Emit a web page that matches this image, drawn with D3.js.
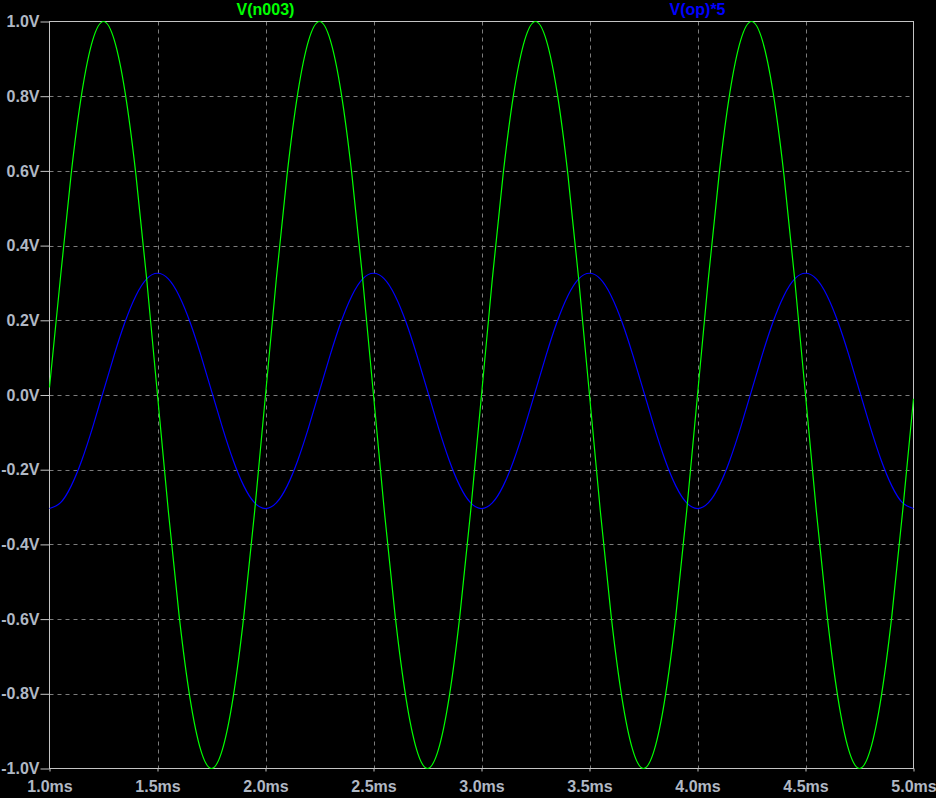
<!DOCTYPE html>
<html>
<head>
<meta charset="utf-8">
<script src="https://cdn.jsdelivr.net/npm/d3@7"></script>
<style>
html, body { margin: 0; padding: 0; background: #000; }
svg { display: block; }
</style>
</head>
<body>
<svg id="chart" width="936" height="798"></svg>
<script>
// ---- data ----
const timesMs = [
  1.00,1.05,1.10,1.15,1.20,1.25,1.30,1.35,1.40,1.45,
  1.50,1.55,1.60,1.65,1.70,1.75,1.80,1.85,1.90,1.95,
  2.00,2.05,2.10,2.15,2.20,2.25,2.30,2.35,2.40,2.45,
  2.50,2.55,2.60,2.65,2.70,2.75,2.80,2.85,2.90,2.95,
  3.00,3.05,3.10,3.15,3.20,3.25,3.30,3.35,3.40,3.45,
  3.50,3.55,3.60,3.65,3.70,3.75,3.80,3.85,3.90,3.95,
  4.00,4.05,4.10,4.15,4.20,4.25,4.30,4.35,4.40,4.45,
  4.50,4.55,4.60,4.65,4.70,4.75,4.80,4.85,4.90,4.95,
  5.00
];
const vN003 = [
  0.02,0.31,0.59,0.81,0.95,1.00,0.95,0.81,0.59,0.31,
  0.00,-0.31,-0.59,-0.81,-0.95,-1.00,-0.95,-0.81,-0.59,-0.31,
  0.00,0.31,0.59,0.81,0.95,1.00,0.95,0.81,0.59,0.31,
  0.00,-0.31,-0.59,-0.81,-0.95,-1.00,-0.95,-0.81,-0.59,-0.31,
  0.00,0.31,0.59,0.81,0.95,1.00,0.95,0.81,0.59,0.31,
  0.00,-0.31,-0.59,-0.81,-0.95,-1.00,-0.95,-0.81,-0.59,-0.31,
  0.00,0.31,0.59,0.81,0.95,1.00,0.95,0.81,0.59,0.31,
  0.00,-0.31,-0.59,-0.81,-0.95,-1.00,-0.95,-0.81,-0.59,-0.31,
  -0.01
];
const vOpTimes5 = [
  -0.304,-0.289,-0.244,-0.174,-0.086,0.011,0.108,0.196,0.266,0.311,
  0.326,0.311,0.266,0.196,0.108,0.011,-0.086,-0.174,-0.244,-0.289,
  -0.304,-0.289,-0.244,-0.174,-0.086,0.011,0.108,0.196,0.266,0.311,
  0.326,0.311,0.266,0.196,0.108,0.011,-0.086,-0.174,-0.244,-0.289,
  -0.304,-0.289,-0.244,-0.174,-0.086,0.011,0.108,0.196,0.266,0.311,
  0.326,0.311,0.266,0.196,0.108,0.011,-0.086,-0.174,-0.244,-0.289,
  -0.304,-0.289,-0.244,-0.174,-0.086,0.011,0.108,0.196,0.266,0.311,
  0.326,0.311,0.266,0.196,0.108,0.011,-0.086,-0.174,-0.244,-0.289,
  -0.304
];
const xTicks = [1.0,1.5,2.0,2.5,3.0,3.5,4.0,4.5,5.0];
const xTickLabels = ["1.0ms","1.5ms","2.0ms","2.5ms","3.0ms","3.5ms","4.0ms","4.5ms","5.0ms"];
const yTicks = [1.0,0.8,0.6,0.4,0.2,0.0,-0.2,-0.4,-0.6,-0.8,-1.0];
const yTickLabels = ["1.0V","0.8V","0.6V","0.4V","0.2V","0.0V","-0.2V","-0.4V","-0.6V","-0.8V","-1.0V"];
const seriesNames = ["V(n003)","V(op)*5"];
const seriesColors = ["#00ff00","#0000ff"];

// ---- layout ----
const svg = d3.select("#chart");
const L = 49.5, R = 913.5, T = 21.5, B = 768.5;
const x = d3.scaleLinear().domain([1.0, 5.0]).range([L, R]);
const y = d3.scaleLinear().domain([-1.0, 1.0]).range([B, T]);
const labelColor = "#b0b8c4";
const frameColor = "#c4c4c4";
const gridColor = "#7c7c7c";
const font = "'Liberation Sans', Arial, sans-serif";

svg.append("rect").attr("width", 936).attr("height", 798).attr("fill", "#000");

// grid
const grid = svg.append("g");
grid.selectAll("line.gx").data(xTicks.slice(1, -1)).enter().append("line")
  .attr("x1", d => Math.round(x(d)) + 0.5).attr("x2", d => Math.round(x(d)) + 0.5)
  .attr("y1", T).attr("y2", B)
  .attr("stroke", gridColor).attr("stroke-width", 1).attr("stroke-dasharray", "4,4");
grid.selectAll("line.gy").data(yTicks.slice(1, -1)).enter().append("line")
  .attr("y1", d => Math.round(y(d)) + 0.5).attr("y2", d => Math.round(y(d)) + 0.5)
  .attr("x1", L).attr("x2", R)
  .attr("stroke", gridColor).attr("stroke-width", 1).attr("stroke-dasharray", "4,4");

// frame
svg.append("rect").attr("x", L).attr("y", T).attr("width", R - L).attr("height", B - T)
  .attr("fill", "none").attr("stroke", frameColor).attr("stroke-width", 1);

// y axis
const yAxis = d3.axisLeft(y).tickValues(yTicks)
  .tickFormat((d, i) => yTickLabels[i]).tickSize(9).tickPadding(1);
const gy = svg.append("g").attr("transform", `translate(${L},0)`).call(yAxis);
gy.select(".domain").remove();
gy.selectAll(".tick line").attr("stroke", frameColor);
gy.selectAll(".tick text").attr("fill", labelColor)
  .attr("font-family", font).attr("font-size", 16).attr("font-weight", "bold");

// x axis
const xAxis = d3.axisBottom(x).tickValues(xTicks)
  .tickFormat((d, i) => xTickLabels[i]).tickSize(3).tickPadding(9);
const gx = svg.append("g").attr("transform", `translate(0,${B})`).call(xAxis);
gx.select(".domain").remove();
gx.selectAll(".tick line").attr("stroke", frameColor);
gx.selectAll(".tick text").attr("fill", labelColor)
  .attr("font-family", font).attr("font-size", 16).attr("font-weight", "bold");

// traces
const line = (vals) => d3.line()
  .x((d, i) => x(timesMs[i]))
  .y(d => y(d))
  .curve(d3.curveNatural)(vals);

svg.append("path").attr("d", line(vOpTimes5))
  .attr("fill", "none").attr("stroke", seriesColors[1]).attr("stroke-width", 1.2);
svg.append("path").attr("d", line(vN003))
  .attr("fill", "none").attr("stroke", seriesColors[0]).attr("stroke-width", 1.2);

// legend titles
svg.append("text").attr("x", x(2.0)).attr("y", 15)
  .attr("text-anchor", "middle").attr("fill", seriesColors[0])
  .attr("font-family", font).attr("font-size", 16).attr("font-weight", "bold")
  .text(seriesNames[0]);
svg.append("text").attr("x", x(4.0)).attr("y", 15)
  .attr("text-anchor", "middle").attr("fill", seriesColors[1])
  .attr("font-family", font).attr("font-size", 16).attr("font-weight", "bold")
  .text(seriesNames[1]);
</script>
</body>
</html>
